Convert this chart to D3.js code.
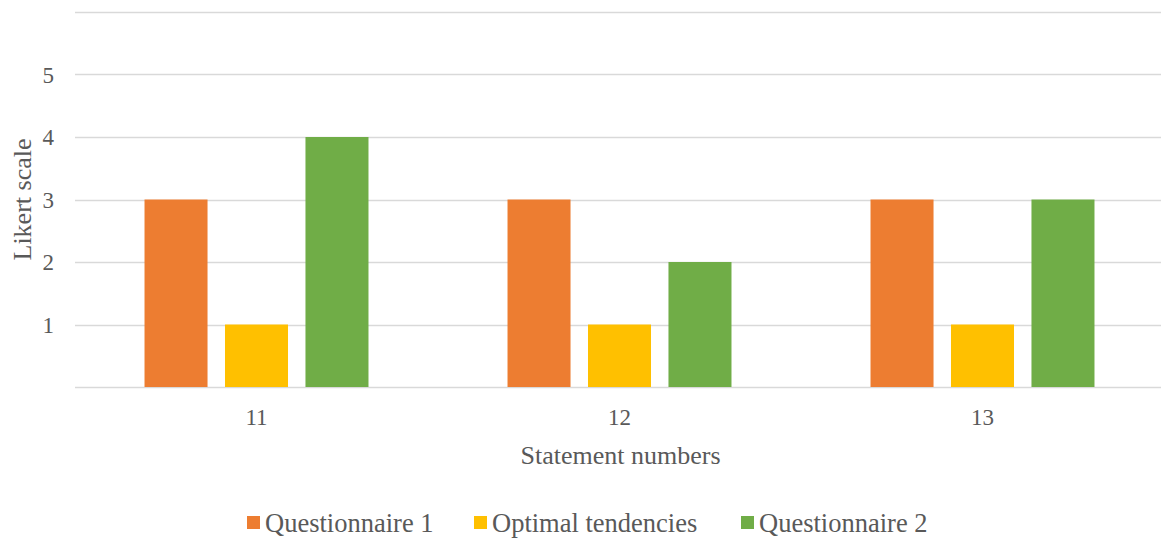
<!DOCTYPE html>
<html>
<head>
<meta charset="utf-8">
<script src="https://cdn.jsdelivr.net/npm/d3@7"></script>
<style>
  body { margin: 0; background: #fff; }
  text { font-family: "Liberation Serif", "Times New Roman", serif; fill: #595959; }
</style>
</head>
<body>
<svg id="chart" width="1161" height="541"></svg>
<script>
"use strict";

// data
var categories = ["11", "12", "13"];
var seriesNames = ["Questionnaire 1", "Optimal tendencies", "Questionnaire 2"];
var questionnaire1 = [3, 3, 3];
var optimal = [1, 1, 1];
var questionnaire2 = [4, 2, 3];
var yTicks = [0, 1, 2, 3, 4, 5, 6];
var colors = ["#ED7D31", "#FFC000", "#70AD47"];

var series = [questionnaire1, optimal, questionnaire2];

var svg = d3.select("#chart");
var plotLeft = 75, plotRight = 1164, plotTop = 12, plotBottom = 387;

var x0 = d3.scaleBand()
  .domain(categories)
  .range([plotLeft, plotRight])
  .paddingInner(0.383)
  .paddingOuter(0.1915);

var x1 = d3.scaleBand()
  .domain(d3.range(seriesNames.length))
  .range([0, x0.bandwidth()])
  .paddingInner(0.217)
  .paddingOuter(0);

var y = d3.scaleLinear()
  .domain([0, 6])
  .range([plotBottom, plotTop]);

// gridlines
svg.append("g")
  .selectAll("line")
  .data(yTicks)
  .enter().append("line")
  .attr("x1", plotLeft)
  .attr("x2", plotRight)
  .attr("y1", function(d) { return Math.round(y(d)) + 0.5 })
  .attr("y2", function(d) { return Math.round(y(d)) + 0.5 })
  .style("stroke", "#D9D9D9")
  .style("stroke-width", 1.5);

// y tick labels (1..5 only)
svg.append("g")
  .selectAll("text")
  .data(yTicks.filter(function(d) { return d > 0 && d < 6 }))
  .enter().append("text")
  .attr("x", 54)
  .attr("y", function(d) { return y(d) })
  .attr("dy", "0.35em")
  .attr("text-anchor", "end")
  .style("font-size", "23px")
  .text(function(d) { return d });

// bars
var groups = svg.append("g")
  .selectAll("g")
  .data(categories)
  .enter().append("g")
  .attr("transform", function(d) { return "translate(" + x0(d) + ",0)" });

groups.selectAll("rect")
  .data(function(d, i) { return series.map(function(s, j) { return { s: j, v: s[i] } }) })
  .enter().append("rect")
  .attr("x", function(d) { return x1(d.s) })
  .attr("width", x1.bandwidth())
  .attr("y", function(d) { return y(d.v) })
  .attr("height", function(d) { return y(0) - y(d.v) })
  .style("fill", function(d) { return colors[d.s] });

// x tick labels
svg.append("g")
  .selectAll("text")
  .data(categories)
  .enter().append("text")
  .attr("x", function(d) { return x0(d) + x0.bandwidth() / 2 })
  .attr("y", 425)
  .attr("text-anchor", "middle")
  .style("font-size", "23px")
  .text(function(d) { return d });

// axis titles
svg.append("text")
  .attr("x", (plotLeft + plotRight) / 2 + 1)
  .attr("y", 464)
  .attr("text-anchor", "middle")
  .style("font-size", "26px")
  .text("Statement numbers");

svg.append("text")
  .attr("transform", "translate(31," + ((plotTop + plotBottom) / 2) + ") rotate(-90)")
  .attr("text-anchor", "middle")
  .style("font-size", "26px")
  .text("Likert scale");

// legend
var legendX = [247, 474, 741];
var legend = svg.append("g")
  .selectAll("g")
  .data(seriesNames)
  .enter().append("g")
  .attr("transform", function(d, i) { return "translate(" + legendX[i] + ",516)" });

legend.append("rect")
  .attr("width", 13)
  .attr("height", 13)
  .style("fill", function(d, i) { return colors[i] });

legend.append("text")
  .attr("x", 18)
  .attr("y", 16)
  .style("font-size", "26.5px")
  .text(function(d) { return d });
</script>
</body>
</html>
